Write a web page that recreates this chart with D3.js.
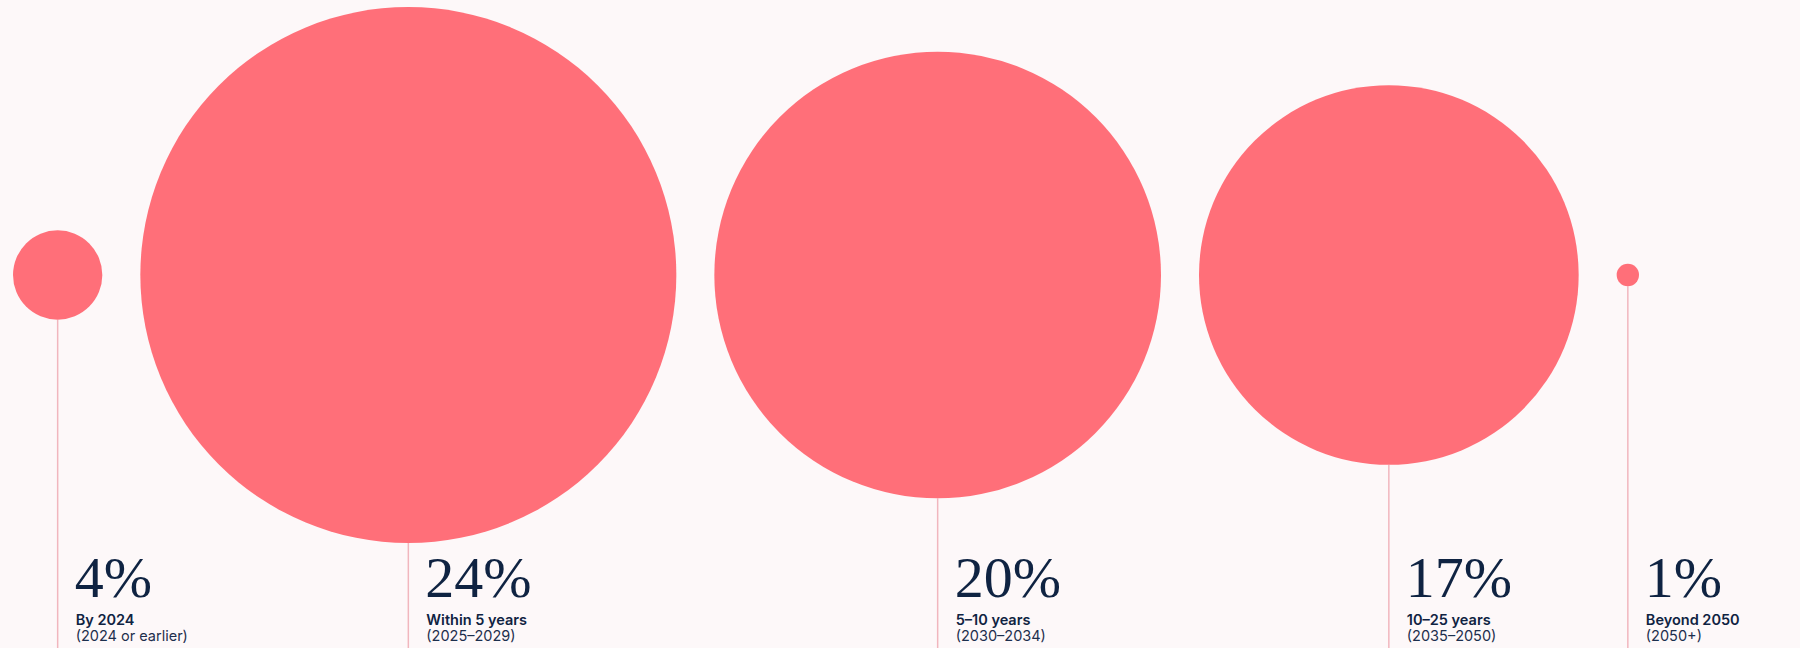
<!DOCTYPE html>
<html>
<head>
<meta charset="utf-8">
<script src="https://cdn.jsdelivr.net/npm/d3@7"></script>
<style>
  html, body { margin: 0; padding: 0; background: #fdf8f9; }
  svg { display: block; }
</style>
</head>
<body>
<svg id="chart" width="1800" height="648"></svg>
<script>
const categories = ["By 2024", "Within 5 years", "5–10 years", "10–25 years", "Beyond 2050"];
const subLabels = ["(2024 or earlier)", "(2025–2029)", "(2030–2034)", "(2035–2050)", "(2050+)"];
const values = [4, 24, 20, 17, 1];

const W = 1800, H = 648;
const svg = d3.select("#chart");

const rScale = d3.scaleLinear().domain([0, 24]).range([0, 268]);
const cy = 275, gap = 38, startX = 13;

// layout: circles placed left to right with constant gap
let x = startX;
const nodes = values.map((v, i) => {
  const r = rScale(v);
  const cx = x + r;
  x = cx + r + gap;
  return { v, r, cx, cat: categories[i], sub: subLabels[i] };
});

const g = svg.append("g");

// stems
g.selectAll("line.stem").data(nodes).join("line")
  .attr("class", "stem")
  .attr("x1", d => d.cx).attr("x2", d => d.cx)
  .attr("y1", d => cy + d.r).attr("y2", H)
  .attr("stroke", "#f1b6be").attr("stroke-width", 1.5);

// circles
g.selectAll("circle").data(nodes).join("circle")
  .attr("cx", d => d.cx).attr("cy", cy).attr("r", d => d.r)
  .attr("fill", "#ff6f79");

// percent labels
g.selectAll("text.pct").data(nodes).join("text")
  .attr("class", "pct")
  .attr("x", d => d.cx + 17).attr("y", 597)
  .attr("font-family", "'Liberation Serif', 'DejaVu Serif', serif")
  .attr("font-size", 58)
  .attr("fill", "#0f2342")
  .text(d => d3.format("d")(d.v) + "%");

g.selectAll("text.cat").data(nodes).join("text")
  .attr("class", "cat")
  .attr("x", d => d.cx + 18).attr("y", 625)
  .attr("font-family", "Inter, 'Liberation Sans', sans-serif")
  .attr("font-size", 14.5)
  .attr("font-weight", 600)
  .attr("fill", "#0f2342")
  .text(d => d.cat);

g.selectAll("text.sub").data(nodes).join("text")
  .attr("class", "sub")
  .attr("x", d => d.cx + 18).attr("y", 641)
  .attr("font-family", "Inter, 'Liberation Sans', sans-serif")
  .attr("font-size", 14.5)
  .attr("font-weight", 400)
  .attr("fill", "#1d2f4d")
  .text(d => d.sub);
</script>
</body>
</html>
